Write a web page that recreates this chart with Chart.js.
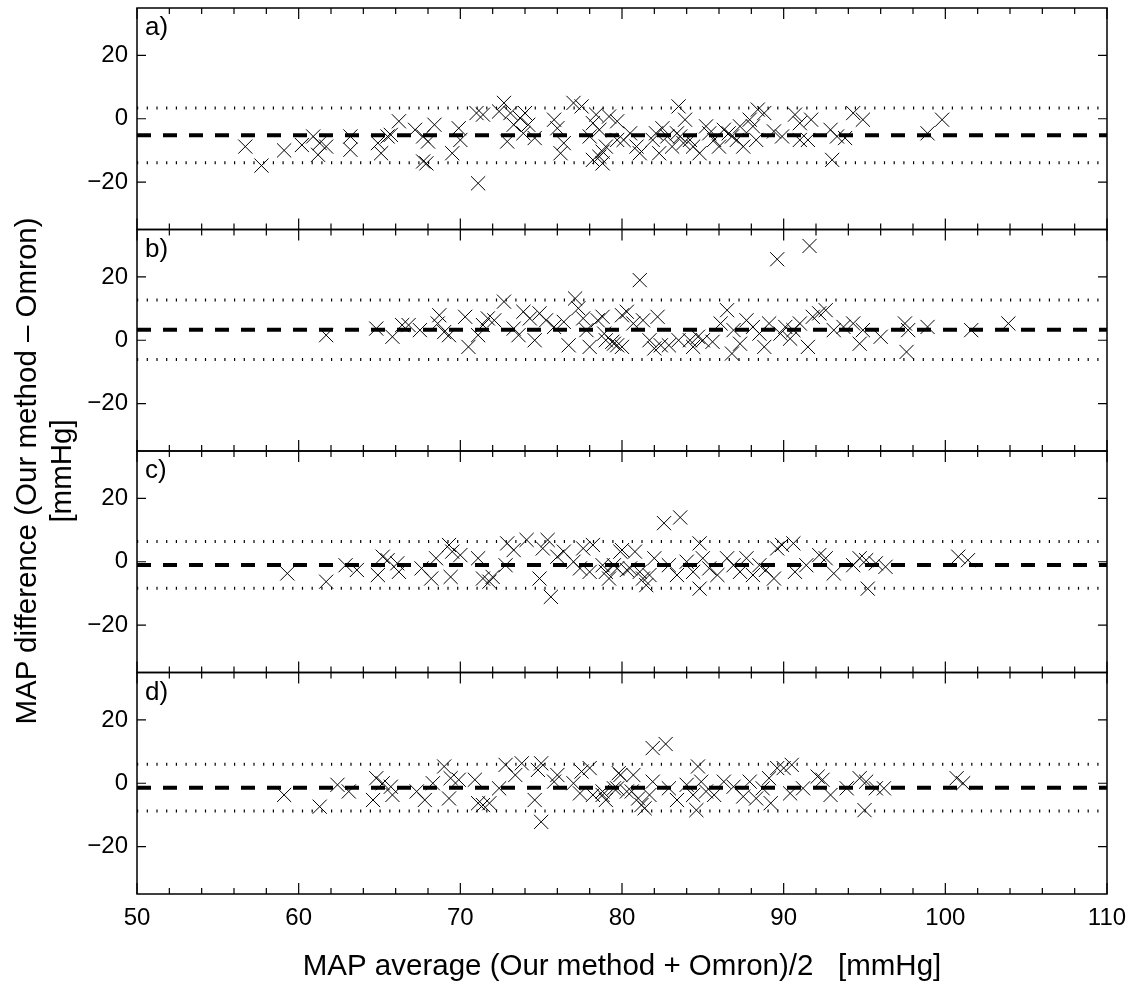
<!DOCTYPE html>
<html>
<head>
<meta charset="utf-8">
<script src="https://cdn.jsdelivr.net/npm/chart.js@4"></script>
<style>
  body { margin: 0; background: #fff; }
  #wrap { position: relative; width: 1134px; height: 987px; overflow: hidden; background: #fff; }
  #wrap canvas { position: absolute; left: 0; top: 0; }
  #ylabel {
    position: absolute; width: 700px; height: 70px; left: -307px; top: 436px;
    transform: rotate(-90deg); transform-origin: 50% 50%;
    font: 29.5px "Liberation Sans", Arial, sans-serif; line-height: 35px;
    text-align: center; color: #000; white-space: nowrap;
  }
</style>
</head>
<body>
<div id="wrap">
  <canvas id="chart0" width="1134" height="987"></canvas>
  <canvas id="chart1" width="1134" height="987"></canvas>
  <canvas id="chart2" width="1134" height="987"></canvas>
  <canvas id="chart3" width="1134" height="987"></canvas>
  <div id="ylabel">MAP difference (Our method – Omron)<br>[mmHg]</div>
</div>
<script>
// Bland-Altman panels a) - d)
const FONT = '"Liberation Sans", Arial, sans-serif';

const panelNames = ['a)', 'b)', 'c)', 'd)'];
const xTicks = [50, 60, 70, 80, 90, 100, 110];
const yTicks = [-20, 0, 20];

const meanDiff = [-5.25, 3.3, -1.0, -1.4];
const upperLoA = [3.4, 12.7, 6.4, 6.0];
const lowerLoA = [-13.9, -6.1, -8.4, -8.8];

const panelA_x = [56.7, 57.7, 59.1, 60.2, 60.9, 61.3, 61.2, 61.7, 63.2, 63.2, 64.9, 65.1, 65.5, 65.7, 66.2, 67.2, 67.7, 67.9, 67.7, 68.0,
  68.4, 69.5, 70.0, 69.9, 71.1, 71.0, 71.4, 72.4, 72.7, 72.9, 73.1, 73.3, 73.7, 74.0, 74.2, 73.9, 74.6, 75.8, 76.0, 76.2,
  76.4, 77.0, 77.5, 78.0, 78.2, 78.4, 78.6, 78.2, 78.6, 78.8, 78.8, 79.0, 79.7, 80.1, 79.2, 79.7, 80.5, 80.9, 81.1, 81.9,
  82.1, 82.3, 82.5, 82.8, 83.1, 83.4, 83.5, 83.6, 83.8, 83.9, 84.2, 84.4, 84.8, 85.2, 85.4, 85.7, 86.0, 86.3, 86.6, 86.8,
  87.1, 87.3, 87.5, 87.9, 88.1, 88.3, 88.4, 88.8, 89.4, 89.9, 90.7, 91.0, 91.0, 91.5, 91.7, 92.9, 93.0, 93.3, 93.8, 94.3,
  94.9, 98.9, 99.8];
const panelA_y = [-8.8, -14.8, -10.0, -8.3, -5.6, -7.7, -11.4, -8.8, -5.6, -9.8, -7.7, -10.9, -5.6, -5.1, -0.8, -3.5, -13.5, -14.1, -5.6, -7.2,
  -1.9, -10.9, -6.7, -3.0, -20.4, 1.8, 1.3, 2.3, 5.0, -7.2, 1.8, -1.9, 0.2, 1.8, -1.9, -4.6, -6.1, -0.3, -3.0, -10.9,
  -7.7, 5.0, 3.9, -5.6, -1.4, 1.3, -3.5, -13.0, -12.0, -10.4, -14.1, -8.8, -0.8, -6.7, 0.7, -6.7, -4.6, -8.8, -10.9, -6.7,
  -4.6, -10.9, -3.0, -5.6, -8.8, -4.6, 3.9, -5.6, -7.7, -0.3, -6.7, -8.8, -10.9, -2.4, -4.6, -6.7, -8.8, -3.5, -4.6, -5.6,
  -6.7, -2.4, -8.8, -0.3, -2.4, -6.7, 2.9, 1.8, -4.0, -5.6, 1.3, -1.4, -6.7, -6.7, -0.3, -3.5, -13.0, -5.6, -6.1, 1.8,
  -0.3, -4.6, -0.3];

const panelB_x = [61.7, 64.8, 65.8, 66.4, 66.8, 67.5, 68.7, 68.6, 69.0, 69.3, 70.3, 70.5, 71.1, 71.4, 71.7, 72.1, 72.7, 73.3, 73.6, 73.9,
  74.3, 74.6, 74.9, 75.3, 75.8, 76.7, 76.4, 77.1, 77.3, 77.6, 77.8, 78.0, 78.5, 78.9, 79.4, 79.7, 80.0, 78.8, 79.0, 79.5,
  80.0, 80.3, 80.7, 81.1, 81.3, 81.7, 82.0, 82.2, 82.4, 82.9, 83.5, 84.2, 84.4, 84.7, 85.0, 85.6, 86.1, 86.5, 86.8, 86.9,
  87.3, 87.7, 88.1, 88.5, 88.8, 89.1, 89.6, 89.8, 90.1, 90.4, 90.6, 91.0, 91.5, 91.6, 91.8, 92.2, 92.6, 93.1, 93.7, 94.3,
  94.7, 94.9, 96.0, 97.5, 97.6, 97.7, 98.9, 101.6, 103.9];
const panelB_y = [1.6, 3.7, 1.1, 4.8, 4.8, 3.2, 7.9, 5.3, 2.6, 1.6, 7.4, -2.1, 1.6, 4.8, 6.9, 6.3, 12.2, 3.7, 1.6, 9.0,
  6.9, 0.0, 8.5, 6.3, 4.2, -1.6, 5.8, 13.2, 10.1, 6.9, 3.2, -2.1, 6.3, 2.1, -0.5, -1.6, 7.9, 7.4, 0.0, -1.1,
  -2.1, 9.0, 5.3, 19.0, 6.3, 0.0, -2.6, 7.4, -1.6, -1.6, 0.0, 0.0, -2.1, 1.1, 0.0, -0.5, 5.3, 9.5, -4.2, 3.2,
  -1.1, 6.3, 4.2, 2.1, -2.1, 5.3, 25.6, 2.1, 4.2, 0.5, 3.2, 5.3, -2.1, 29.8, 7.4, 8.5, 9.5, 3.2, 4.2, 5.3,
  -1.1, 3.2, 1.1, 5.3, -3.7, 3.2, 4.2, 3.2, 5.3];

const panelC_x = [59.3, 61.7, 62.9, 63.6, 64.9, 65.2, 65.5, 66.2, 66.1, 67.6, 68.2, 68.5, 69.3, 69.4, 69.5, 70.0, 71.1, 71.4, 71.8, 72.0,
  72.8, 72.9, 73.3, 74.1, 74.9, 75.1, 75.4, 75.6, 76.0, 76.4, 77.0, 77.4, 77.6, 78.0, 78.2, 78.8, 79.2, 79.7, 79.9, 80.3,
  79.0, 79.5, 80.0, 80.8, 80.5, 81.1, 81.3, 81.5, 81.7, 82.0, 82.6, 83.6, 82.9, 83.4, 84.0, 84.4, 84.8, 84.8, 85.0, 85.4,
  85.9, 86.5, 86.9, 87.3, 87.7, 88.1, 88.5, 88.9, 89.4, 89.6, 89.9, 90.6, 90.7, 91.4, 92.2, 92.6, 93.1, 94.3, 94.7, 95.1,
  95.2, 95.7, 96.3, 100.8, 101.4];
const panelC_y = [-3.7, -6.3, -1.1, -2.6, -4.2, 1.6, 0.5, -3.2, -0.5, -2.1, -5.3, 1.1, 5.3, -4.8, 3.2, 2.1, 1.1, -5.3, -6.3, -4.8,
  -1.1, 5.8, 3.7, 6.9, -5.3, 4.2, 6.9, -11.1, 1.6, 3.2, 0.0, -2.1, 4.2, -3.2, 5.3, -1.1, -5.3, -2.1, 3.2, -2.6,
  -3.2, -1.1, 3.7, 3.2, -2.1, -3.2, -5.3, -7.4, -4.2, 1.1, 12.2, 14.0, -1.1, -4.2, 0.0, -3.2, 5.8, -8.5, 1.1, -2.1,
  -4.2, 1.1, -1.1, -3.2, 1.1, -4.2, -1.1, -2.6, -5.3, 4.2, 5.3, 5.8, -3.2, -1.1, 2.1, 1.1, -3.7, -1.1, 1.1, 0.5,
  -8.5, -0.5, -1.6, 1.6, 0.5];

const panelD_x = [59.1, 61.3, 62.4, 63.1, 64.6, 64.8, 65.2, 65.8, 65.7, 67.3, 67.8, 68.3, 69.0, 69.3, 69.4, 69.9, 70.9, 71.1, 71.4, 71.8,
  72.4, 72.8, 73.4, 73.8, 74.6, 74.8, 75.0, 75.0, 75.8, 76.0, 77.0, 77.4, 77.5, 78.0, 78.2, 78.8, 79.0, 79.7, 79.9, 80.3,
  78.8, 79.5, 79.8, 80.7, 80.6, 81.0, 81.2, 81.4, 81.7, 81.9, 82.7, 81.9, 82.9, 83.4, 84.0, 84.4, 84.7, 84.6, 84.9, 85.2,
  85.7, 86.3, 86.9, 87.5, 87.9, 88.3, 88.7, 89.1, 89.2, 89.6, 90.0, 90.5, 90.4, 91.2, 92.1, 92.4, 92.9, 93.9, 94.7, 95.1,
  95.0, 95.7, 96.2, 100.7, 101.1];
const panelD_y = [-3.7, -7.4, -0.5, -2.6, -5.3, 1.6, 0.0, -3.7, -1.1, -2.6, -5.3, 0.0, 5.3, -4.8, 1.6, 1.1, 1.1, -6.3, -6.9, -6.3,
  -1.6, 5.8, 2.6, 6.3, -5.3, 4.2, 6.3, -12.2, 0.5, 2.6, 0.0, -3.2, 3.7, 4.8, -3.7, -2.6, -5.3, -1.6, 2.6, -2.6,
  -3.7, -1.6, 3.2, 2.6, -2.6, -4.8, -6.9, -7.9, -3.7, 11.1, 12.4, 0.5, -1.6, -5.3, -0.5, -3.7, 5.3, -8.5, 0.5, -2.6,
  -3.7, 0.5, -1.1, -4.2, 0.5, -4.8, -1.6, 1.6, -6.3, 4.8, 4.8, 5.8, -3.2, -1.6, 2.1, 1.1, -3.7, -1.6, 1.6, 0.5,
  -8.5, -1.6, -1.6, 1.6, 0.0];

const panelXs = [panelA_x, panelB_x, panelC_x, panelD_x];
const panelYs = [panelA_y, panelB_y, panelC_y, panelD_y];

// page layout of the four boxes
const panelTop = [8, 229.5, 451, 672.5];
const panelBottom = [229.5, 451, 672.5, 894];

const boxTicks = {
    id: 'boxTicks',
    afterDatasetsDraw(chart, args, opts) {
        const { ctx, chartArea: a, scales: { x, y } } = chart;
        ctx.save();
        ctx.strokeStyle = '#000';
        ctx.lineWidth = 1.2;
        ctx.beginPath();
        for (let v = 50; v <= 110; v += 2) {
            const px = x.getPixelForValue(v);
            const len = v % 10 === 0 ? 11 : 6;
            ctx.moveTo(px, a.top); ctx.lineTo(px, a.top + len);
            ctx.moveTo(px, a.bottom); ctx.lineTo(px, a.bottom - len);
        }
        yTicks.forEach(v => {
            const py = y.getPixelForValue(v);
            ctx.moveTo(a.left, py); ctx.lineTo(a.left + 9, py);
            ctx.moveTo(a.right, py); ctx.lineTo(a.right - 9, py);
        });
        ctx.stroke();
        ctx.lineWidth = 1.5;
        ctx.strokeRect(a.left, a.top, a.right - a.left, a.bottom - a.top);
        ctx.fillStyle = '#000';
        ctx.font = '26px ' + FONT;
        ctx.textBaseline = 'alphabetic';
        ctx.textAlign = 'left';
        ctx.fillText(opts.label, a.left + 8, a.top + 27);
        ctx.restore();
    }
};

function hLine(value, width, dash) {
    return {
        type: 'line',
        data: [{ x: 50, y: value }, { x: 110, y: value }],
        borderColor: '#000',
        borderWidth: width,
        borderDash: dash,
        pointRadius: 0,
        fill: false
    };
}

function makePanel(i) {
    const isLast = i === 3;
    const points = panelXs[i].map((v, k) => ({ x: v, y: panelYs[i][k] }));
    return new Chart(document.getElementById('chart' + i), {
        type: 'scatter',
        data: {
            datasets: [
                {
                    data: points,
                    pointStyle: 'crossRot',
                    pointRadius: 10,
                    borderColor: '#000',
                    backgroundColor: '#000',
                    borderWidth: 1
                },
                hLine(meanDiff[i], 4, [14, 12]),
                hLine(upperLoA[i], 3, [1.2, 8.5]),
                hLine(lowerLoA[i], 3, [1.2, 8.5])
            ]
        },
        options: {
            responsive: false,
            animation: false,
            layout: {
                autoPadding: false,
                padding: { left: 0, right: 27, top: panelTop[i], bottom: isLast ? 0 : 987 - panelBottom[i] }
            },
            plugins: {
                legend: { display: false },
                tooltip: { enabled: false },
                boxTicks: { label: panelNames[i] }
            },
            scales: {
                x: {
                    type: 'linear',
                    min: 50,
                    max: 110,
                    display: isLast,
                    grid: { display: false, drawTicks: false },
                    border: { display: false },
                    afterBuildTicks: s => { s.ticks = xTicks.map(v => ({ value: v })); },
                    afterFit: s => {
                        if (!isLast) return;
                        s.height = 93; s.paddingLeft = 0; s.paddingRight = 0;
                    },
                    ticks: { font: { family: FONT, size: 24 }, color: '#000', padding: 10, maxRotation: 0 },
                    title: {
                        display: true,
                        text: 'MAP average (Our method + Omron)/2   [mmHg]',
                        font: { family: FONT, size: 29.5 },
                        color: '#000',
                        padding: { top: 0, bottom: 2 }
                    }
                },
                y: {
                    type: 'linear',
                    min: -35,
                    max: 35,
                    grid: { display: false, drawTicks: false },
                    border: { display: false },
                    afterBuildTicks: s => { s.ticks = yTicks.map(v => ({ value: v })); },
                    afterFit: s => { s.width = 137; s.paddingTop = 0; s.paddingBottom = 0; },
                    ticks: {
                        font: { family: FONT, size: 24 },
                        color: '#000',
                        padding: 9,
                        callback: v => v < 0 ? '\u2212' + Math.abs(v) : String(v)
                    }
                }
            }
        },
        plugins: [boxTicks]
    });
}

for (let i = 0; i < 4; i++) makePanel(i);
</script>
</body>
</html>
